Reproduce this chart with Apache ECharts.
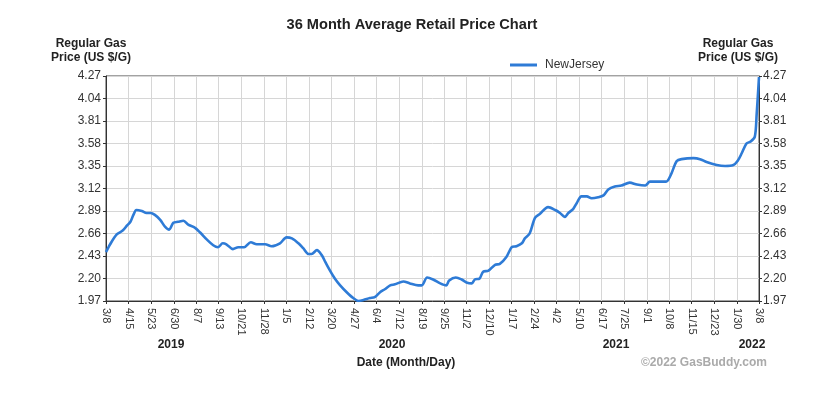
<!DOCTYPE html>
<html>
<head>
<meta charset="utf-8">
<script src="https://cdn.jsdelivr.net/npm/echarts@6/dist/echarts.min.js"></script>
<style>
html,body{margin:0;padding:0;background:#fff;}
#chart{width:824px;height:396px;}
</style>
</head>
<body>
<div id="chart"></div>
<script>
// ---- Data ----
const seriesName = 'NewJersey';
const dates = [
'2019-03-08','2019-03-15','2019-03-26','2019-04-05','2019-04-12','2019-04-18','2019-04-23','2019-04-28',
'2019-05-07','2019-05-15','2019-05-22','2019-05-29','2019-06-07','2019-06-15','2019-06-22','2019-06-29',
'2019-07-07','2019-07-16','2019-07-24','2019-08-04','2019-08-13','2019-08-24','2019-09-04','2019-09-12',
'2019-09-20','2019-09-26','2019-10-07','2019-10-16','2019-10-26','2019-11-06','2019-11-16','2019-11-30',
'2019-12-11','2019-12-25','2020-01-05','2020-01-14','2020-01-25','2020-02-02','2020-02-11','2020-02-16',
'2020-02-25','2020-03-04','2020-03-10','2020-03-18','2020-03-26','2020-04-04','2020-04-15','2020-04-26',
'2020-05-05','2020-05-13','2020-05-24','2020-06-01','2020-06-10','2020-06-18','2020-06-27','2020-07-05',
'2020-07-19','2020-07-30','2020-08-13','2020-08-19','2020-08-28','2020-09-07','2020-09-19','2020-09-29',
'2020-10-04','2020-10-15','2020-10-25','2020-11-02','2020-11-11','2020-11-16','2020-11-24','2020-11-30',
'2020-12-09','2020-12-20','2020-12-28','2021-01-08','2021-01-17','2021-01-25','2021-02-03','2021-02-08',
'2021-02-16','2021-02-25','2021-03-05','2021-03-19','2021-03-31','2021-04-08','2021-04-16','2021-04-22',
'2021-04-30','2021-05-06','2021-05-14','2021-05-23','2021-05-31','2021-06-11','2021-06-20','2021-06-28',
'2021-07-09','2021-07-20','2021-08-03','2021-08-15','2021-08-29','2021-09-06','2021-09-17','2021-10-03',
'2021-10-11','2021-10-21','2021-10-29','2021-11-18','2021-11-29','2021-12-10','2021-12-27','2022-01-10',
'2022-01-24','2022-01-31','2022-02-07','2022-02-15','2022-02-22','2022-03-01','2022-03-04','2022-03-08'
];
const prices = [
2.47,2.55,2.65,2.69,2.74,2.78,2.85,2.90,
2.89,2.87,2.87,2.85,2.80,2.73,2.70,2.77,
2.78,2.79,2.75,2.72,2.67,2.60,2.54,2.52,
2.56,2.55,2.50,2.52,2.52,2.57,2.55,2.55,
2.53,2.56,2.62,2.61,2.56,2.51,2.45,2.45,
2.49,2.44,2.37,2.28,2.20,2.13,2.06,2.00,
1.97,1.98,2.00,2.01,2.06,2.09,2.13,2.14,
2.17,2.15,2.13,2.13,2.21,2.19,2.15,2.13,
2.18,2.21,2.19,2.16,2.15,2.19,2.20,2.27,
2.28,2.34,2.35,2.42,2.52,2.53,2.56,2.61,
2.66,2.82,2.86,2.93,2.90,2.87,2.83,2.87,
2.91,2.97,3.04,3.04,3.02,3.03,3.05,3.11,
3.14,3.15,3.18,3.16,3.15,3.19,3.19,3.19,
3.26,3.40,3.42,3.43,3.42,3.39,3.36,3.35,
3.36,3.40,3.48,3.58,3.60,3.65,3.87,4.26
];
const xTicks = [
'2019-03-08','2019-04-15','2019-05-23','2019-06-30','2019-08-07','2019-09-13','2019-10-21','2019-11-28',
'2020-01-05','2020-02-12','2020-03-20','2020-04-27','2020-06-04','2020-07-12','2020-08-19','2020-09-25',
'2020-11-02','2020-12-10','2021-01-17','2021-02-24','2021-04-02','2021-05-10','2021-06-17','2021-07-25',
'2021-09-01','2021-10-08','2021-11-15','2021-12-23','2022-01-30','2022-03-08'
];
const yTicks = [1.97,2.20,2.43,2.66,2.89,3.12,3.35,3.58,3.81,4.04,4.27];
const yearLabels = ['2019','2020','2021','2022'];
const titleText = '36 Month Average Retail Price Chart';
const yAxisTitle = 'Regular Gas\nPrice (US $/G)';
const xAxisTitle = 'Date (Month/Day)';
const creditText = '\u00A92022 GasBuddy.com';

// ---- helpers ----
function toTs(s){const p=s.split('-').map(Number);return new Date(p[0],p[1]-1,p[2]).getTime();}
const FONT = '"Liberation Sans", Arial, sans-serif';
const seriesData = dates.map((d,i)=>[toTs(d), prices[i]]);
const xTickTs = xTicks.map(toTs);

const chart = echarts.init(document.getElementById('chart'));
const yAxisCommon = {
  type:'value', min:yTicks[0], max:yTicks[yTicks.length-1],
  axisLine:{show:true, lineStyle:{color:'#333', width:1}},
  axisTick:{show:true, length:3, customValues:yTicks, lineStyle:{color:'#333'}},
  axisLabel:{customValues:yTicks, fontSize:12, color:'#333', fontFamily:FONT, margin:5,
    formatter:v=>Number(v).toFixed(2)},
};
const yearX = [171, 392, 616, 752];
const option = {
  animation:false,
  backgroundColor:'#fff',
  textStyle:{fontFamily:FONT},
  grid:{left:106, top:76, width:653, height:225, show:true, borderColor:'#444', borderWidth:1, backgroundColor:'#fff'},
  legend:{
    data:[seriesName], left:510, top:59, icon:'rect', itemWidth:27, itemHeight:3, padding:0,
    textStyle:{fontSize:12, color:'#333', fontFamily:FONT, padding:[0,0,0,3]}
  },
  xAxis:{
    type:'value', min:toTs(xTicks[0]), max:toTs(xTicks[xTicks.length-1]),
    axisLine:{show:true, lineStyle:{color:'#333'}},
    axisTick:{show:true, length:3, customValues:xTickTs, lineStyle:{color:'#333'}},
    splitLine:{show:true, lineStyle:{color:'#d6d6d6', width:1}},
    axisLabel:{customValues:xTickTs, rotate:-90, fontSize:11, color:'#333', fontFamily:FONT, margin:7,
      formatter:v=>{const d=new Date(v);return (d.getMonth()+1)+'/'+d.getDate();}}
  },
  yAxis:[
    Object.assign({}, yAxisCommon, {position:'left', splitLine:{show:true, lineStyle:{color:'#d6d6d6', width:1}}}),
    Object.assign({}, yAxisCommon, {position:'right', splitLine:{show:false}, axisLabel:Object.assign({}, yAxisCommon.axisLabel, {margin:4})})
  ],
  series:[{
    name:seriesName, type:'line', data:seriesData, yAxisIndex:0,
    showSymbol:false, symbol:'none', smooth:0.3,
    lineStyle:{color:'#2e7bd6', width:2.6}, itemStyle:{color:'#2e7bd6'}
  }],
  graphic:[
    {type:'text', left:'center', top:17, style:{text:titleText, font:'bold 14.6px '+FONT, fill:'#222'}},
    {type:'text', x:91, y:37, style:{text:yAxisTitle, font:'bold 12px '+FONT, fill:'#222', align:'center', lineHeight:14}},
    {type:'text', x:738, y:37, style:{text:yAxisTitle, font:'bold 12px '+FONT, fill:'#222', align:'center', lineHeight:14}},
    {type:'text', x:406, y:357, style:{text:xAxisTitle, font:'bold 12px '+FONT, fill:'#222', align:'center'}},
    {type:'text', x:704, y:357, style:{text:creditText, font:'bold 12px '+FONT, fill:'#aaa', align:'center'}}
  ].concat(yearLabels.map((t,i)=>({type:'text', x:yearX[i], y:339, style:{text:t, font:'bold 12px '+FONT, fill:'#222', align:'center'}})))
};
chart.setOption(option);
</script>
</body>
</html>
